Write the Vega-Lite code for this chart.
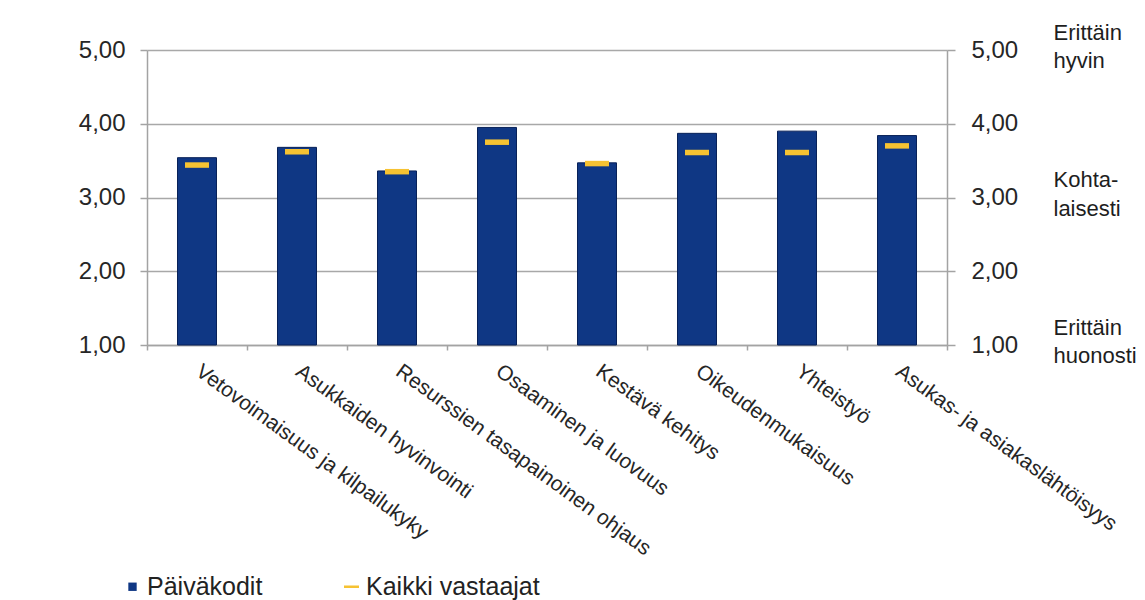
{
  "$schema": "https://vega.github.io/schema/vega-lite/v6.json",
  "width": 800,
  "height": 295,
  "autosize": {"type": "none"},
  "padding": {"left": 147, "top": 50, "right": 198, "bottom": 255},
  "background": "white",
  "config": {
    "font": "Liberation Sans",
    "view": {"stroke": null},
    "legend": {"labelLimit": 400},
    "axis": {
      "title": null,
      "labelColor": "#262626",
      "labelFont": "Liberation Sans",
      "tickColor": "#a3a3a3",
      "domainColor": "#a3a3a3",
      "gridColor": "#a8a8a8",
      "gridWidth": 1.5,
      "domainWidth": 1.5,
      "tickWidth": 1.5
    }
  },
  "data": {
    "values": [
      {"alue": "Vetovoimaisuus ja kilpailukyky", "paivakodit": 3.54, "kaikki": 3.44},
      {"alue": "Asukkaiden hyvinvointi", "paivakodit": 3.68, "kaikki": 3.62},
      {"alue": "Resurssien tasapainoinen ohjaus", "paivakodit": 3.36, "kaikki": 3.35},
      {"alue": "Osaaminen ja luovuus", "paivakodit": 3.95, "kaikki": 3.75},
      {"alue": "Kestävä kehitys", "paivakodit": 3.47, "kaikki": 3.46},
      {"alue": "Oikeudenmukaisuus", "paivakodit": 3.87, "kaikki": 3.61},
      {"alue": "Yhteistyö", "paivakodit": 3.9, "kaikki": 3.61},
      {"alue": "Asukas- ja asiakaslähtöisyys", "paivakodit": 3.84, "kaikki": 3.7}
    ]
  },
  "layer": [
    {
      "mark": {"type": "bar", "width": {"band": 0.39}, "stroke": "#082158", "strokeWidth": 1},
      "encoding": {
        "x": {
          "field": "alue",
          "type": "nominal",
          "sort": null,
          "scale": {"paddingInner": 0, "paddingOuter": 0},
          "axis": {
            "labelAngle": 36,
            "labelAlign": "left",
            "labelBaseline": "top",
            "labelFontSize": 21,
            "labelLimit": 400,
            "labelPadding": 10,
            "labelOffset": 7,
            "tickBand": "extent",
            "tickSize": 5
          }
        },
        "y": {
          "field": "paivakodit",
          "type": "quantitative",
          "scale": {"domain": [1, 5], "zero": false, "nice": false},
          "axis": {
            "orient": "left",
            "values": [1, 2, 3, 4, 5],
            "labelExpr": "replace(format(datum.value, '.2f'), '.', ',')",
            "labelFontSize": 24,
            "tickSize": 7,
            "labelPadding": 15,
            "grid": true
          }
        },
        "y2": {"datum": 1},
        "color": {
          "datum": "Päiväkodit",
          "type": "nominal",
          "scale": {
            "domain": ["Päiväkodit", "Kaikki vastaajat"],
            "range": ["#0f3784", "#f6c232"]
          },
          "legend": {
            "title": null,
            "orient": "none",
            "legendX": -27,
            "legendY": 524,
            "direction": "horizontal",
            "labelFontSize": 25,
            "labelLimit": 400,
            "labelColor": "#222222",
            "labelOffset": 2,
            "symbolSize": 70,
            "symbolStrokeWidth": 0,
            "columnPadding": 76,
            "symbolType": {"expr": "datum.value === 'Päiväkodit' ? 'square' : 'M-1.8,-0.3H1.8V0.3H-1.8Z'"}
          }
        }
      }
    },
    {
      "mark": {"type": "tick", "orient": "horizontal", "size": 24, "thickness": 5.5, "opacity": 1},
      "encoding": {
        "x": {"field": "alue", "type": "nominal", "sort": null},
        "y": {
          "field": "kaikki",
          "type": "quantitative",
          "axis": {
            "orient": "right",
            "values": [1, 2, 3, 4, 5],
            "labelExpr": "replace(format(datum.value, '.2f'), '.', ',')",
            "labelFontSize": 24,
            "tickSize": 8,
            "labelPadding": 16,
            "grid": false
          }
        },
        "color": {
          "datum": "Kaikki vastaajat",
          "type": "nominal",
          "legend": {
            "title": null,
            "orient": "none",
            "legendX": -27,
            "legendY": 524,
            "direction": "horizontal",
            "labelFontSize": 25,
            "labelLimit": 400,
            "labelColor": "#222222",
            "labelOffset": 2,
            "symbolSize": 70,
            "symbolStrokeWidth": 0,
            "columnPadding": 76,
            "symbolType": {"expr": "datum.value === 'Päiväkodit' ? 'square' : 'M-1.8,-0.3H1.8V0.3H-1.8Z'"}
          }
        }
      }
    },
    {
      "data": {
        "values": [
          {"taso": 1, "kuvaus": "Erittäin huonosti"},
          {"taso": 3, "kuvaus": "Kohtalaisesti"},
          {"taso": 5, "kuvaus": "Erittäin hyvin"}
        ]
      },
      "mark": {"type": "point", "opacity": 0},
      "encoding": {
        "y": {
          "field": "taso",
          "type": "quantitative",
          "axis": {
            "orient": "right",
            "offset": 100,
            "values": [1, 3, 5],
            "domain": false,
            "ticks": false,
            "grid": false,
            "tickSize": 0,
            "labelPadding": 6,
            "labelAlign": "left",
            "labelFontSize": 22,
            "labelLineHeight": 28.5,
            "labelOffset": -18,
            "labelColor": "#1e1e1e",
            "labelExpr": "datum.value == 5 ? ['Erittäin', 'hyvin'] : datum.value == 3 ? ['Kohta-', 'laisesti'] : ['Erittäin', 'huonosti']"
          }
        }
      }
    }
  ],
  "resolve": {"scale": {"y": "shared"}, "axis": {"y": "independent"}}
}
